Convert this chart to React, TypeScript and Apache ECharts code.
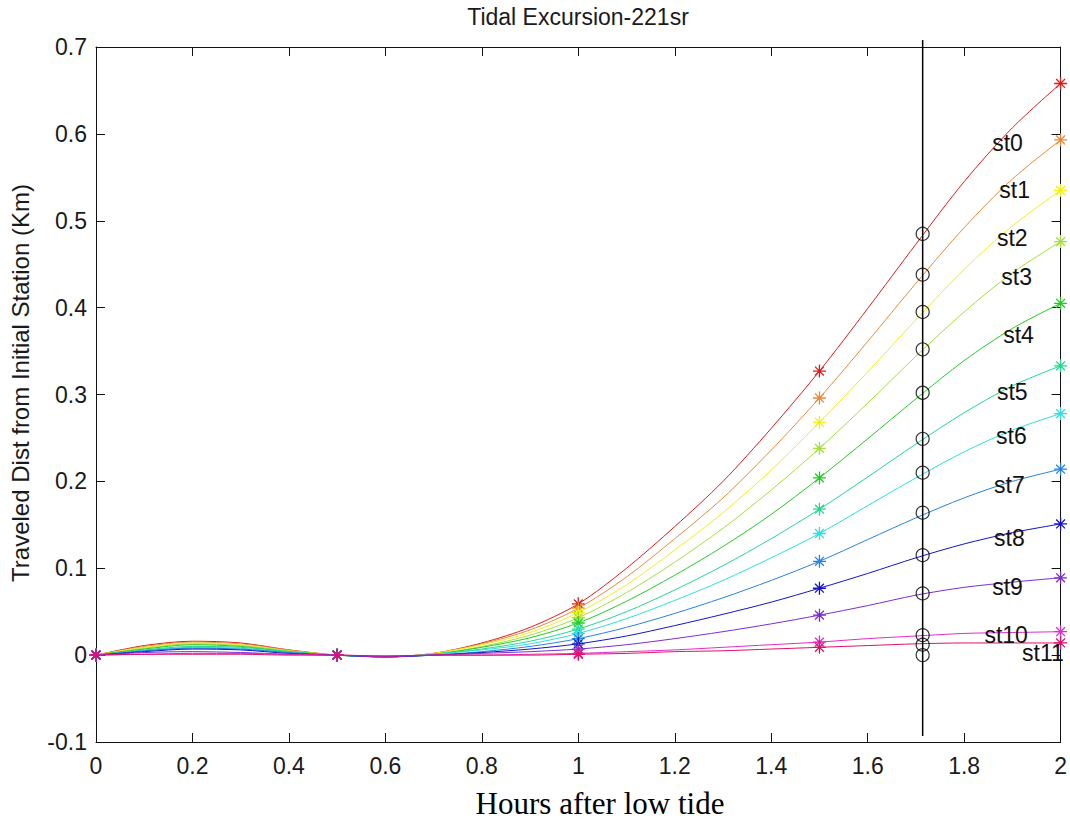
import React, { useEffect, useRef } from "react";
import * as echarts from "echarts";

const xs = [0, 0.1, 0.2, 0.3, 0.4, 0.5, 0.6, 0.7, 0.8, 0.9, 1.0, 1.1, 1.2, 1.3, 1.4, 1.5, 1.6, 1.7, 1.8, 1.9, 2.0];

const stationNames = ["st0", "st1", "st2", "st3", "st4", "st5", "st6", "st7", "st8", "st9", "st10", "st11"];

const st0 = [0, 0.011, 0.016, 0.014, 0.006, 0, -0.002, 0.002, 0.014, 0.032, 0.059, 0.100, 0.148, 0.200, 0.261, 0.327, 0.399, 0.473, 0.545, 0.607, 0.658];
const st1 = [0, 0.010, 0.015, 0.013, 0.006, 0, -0.002, 0.002, 0.013, 0.029, 0.054, 0.090, 0.134, 0.181, 0.236, 0.296, 0.361, 0.428, 0.492, 0.548, 0.593];
const st2 = [0, 0.009, 0.014, 0.012, 0.005, 0, -0.002, 0.002, 0.012, 0.026, 0.049, 0.081, 0.121, 0.164, 0.213, 0.268, 0.326, 0.386, 0.444, 0.494, 0.535];
const st3 = [0, 0.008, 0.013, 0.011, 0.005, 0, -0.002, 0.001, 0.010, 0.023, 0.043, 0.072, 0.107, 0.146, 0.190, 0.238, 0.290, 0.344, 0.395, 0.440, 0.476];
const st4 = [0, 0.007, 0.012, 0.010, 0.004, 0, -0.002, 0.001, 0.009, 0.020, 0.037, 0.062, 0.092, 0.125, 0.162, 0.204, 0.249, 0.295, 0.339, 0.376, 0.405];
const st5 = [0, 0.006, 0.010, 0.009, 0.004, 0, -0.002, 0.001, 0.007, 0.016, 0.030, 0.050, 0.075, 0.103, 0.134, 0.168, 0.205, 0.243, 0.279, 0.310, 0.333];
const st6 = [0, 0.005, 0.009, 0.008, 0.003, 0, -0.002, 0.001, 0.006, 0.013, 0.025, 0.042, 0.063, 0.086, 0.112, 0.140, 0.172, 0.204, 0.234, 0.259, 0.278];
const st7 = [0, 0.005, 0.008, 0.007, 0.003, 0, -0.002, 0.000, 0.004, 0.010, 0.019, 0.032, 0.048, 0.066, 0.086, 0.108, 0.133, 0.158, 0.181, 0.200, 0.214];
const st8 = [0, 0.004, 0.007, 0.006, 0.002, 0, -0.002, 0.000, 0.003, 0.007, 0.013, 0.022, 0.034, 0.047, 0.061, 0.077, 0.094, 0.112, 0.128, 0.141, 0.151];
const st9 = [0, 0.003, 0.004, 0.003, 0.001, 0, -0.002, 0.000, 0.002, 0.004, 0.007, 0.012, 0.019, 0.027, 0.036, 0.046, 0.057, 0.069, 0.078, 0.084, 0.089];
const st10 = [0, 0.001, 0.002, 0.002, 0.001, 0, -0.001, 0, 0.000, 0.001, 0.002, 0.004, 0.006, 0.009, 0.012, 0.015, 0.019, 0.022, 0.025, 0.026, 0.027];
const st11 = [0, 0.001, 0.001, 0.001, 0.000, 0, -0.001, 0, 0, 0.000, 0.001, 0.002, 0.004, 0.005, 0.007, 0.009, 0.011, 0.013, 0.014, 0.014, 0.014];

const stationValues = [st0, st1, st2, st3, st4, st5, st6, st7, st8, st9, st10, st11];

const stationColors = ["#dd1c1c", "#e8893a", "#f0ee1e", "#a4e03a", "#22cc22", "#22d88c", "#2ce0e0", "#2882e0", "#1414c8", "#7a2ed0", "#e02cc8", "#e0106a"];

// hours at which star markers are drawn
const starHours = [0, 0.5, 1.0, 1.5, 2.0];

// vertical marker line
const markerHour = 1.714;
const markerTop = 0.708;
const markerBottom = -0.093;
const circleValues = [0.485, 0.438, 0.395, 0.352, 0.302, 0.249, 0.210, 0.164, 0.115, 0.071, 0.023, 0.012, 0.0];

// station text labels [x, y]
const labelX = [1.857, 1.872, 1.867, 1.876, 1.880, 1.867, 1.865, 1.861, 1.861, 1.857, 1.841, 1.919];
const labelY = [0.589, 0.535, 0.480, 0.435, 0.369, 0.303, 0.252, 0.196, 0.135, 0.078, 0.023, 0.003];

const xTicks = { min: 0, max: 2, interval: 0.2 };
const yTicks = { min: -0.1, max: 0.7, interval: 0.1 };

const STAR = "path://M5 0L5 10M0 5L10 5M1.6 1.6L8.4 8.4M8.4 1.6L1.6 8.4";
const SANS = "'Liberation Sans', Arial, sans-serif";

export default function App() {
  const ref = useRef<HTMLDivElement>(null);
  useEffect(() => {
    if (!ref.current) return;
    const chart = echarts.init(ref.current, undefined, { renderer: "svg" });

    const lineSeries = stationValues.map((vals, i) => ({
      type: "line",
      name: stationNames[i],
      smooth: 0.3,
      showAllSymbol: true,
      lineStyle: { color: stationColors[i], width: 1 },
      itemStyle: { color: stationColors[i], borderColor: stationColors[i], borderWidth: 1.3 },
      data: xs.map((x, j) => {
        const isStar = starHours.some((h) => Math.abs(h - x) < 1e-9);
        return isStar
          ? { value: [x, vals[j]], symbol: STAR, symbolSize: 13 }
          : { value: [x, vals[j]], symbol: "none" };
      }),
      z: 2,
    }));

    const axisLine = { show: true, onZero: false, lineStyle: { color: "#111", width: 1 } };
    const axisTick = { show: true, inside: true, length: 9, lineStyle: { color: "#111", width: 1 } };
    const labelStyle = { fontFamily: SANS, fontSize: 23, color: "#1a1a1a" };

    const option = {
      animation: false,
      backgroundColor: "#fff",
      grid: { left: 96, top: 47, right: 8, bottom: 86, containLabel: false },
      xAxis: [
        {
          type: "value",
          ...xTicks,
          axisLine,
          axisTick,
          splitLine: { show: false },
          axisLabel: { ...labelStyle, margin: 12 },
        },
        {
          type: "value",
          position: "top",
          ...xTicks,
          axisLine,
          axisTick,
          splitLine: { show: false },
          axisLabel: { show: false },
        },
      ],
      yAxis: [
        {
          type: "value",
          ...yTicks,
          axisLine,
          axisTick,
          splitLine: { show: false },
          axisLabel: { ...labelStyle, margin: 9 },
        },
        {
          type: "value",
          position: "right",
          ...yTicks,
          axisLine,
          axisTick,
          splitLine: { show: false },
          axisLabel: { show: false },
        },
      ],
      graphic: [
        {
          type: "text",
          x: 578,
          y: 17,
          style: { text: "Tidal Excursion-221sr", font: `23px ${SANS}`, fill: "#1a1a1a", textAlign: "center", textVerticalAlign: "middle" },
        },
        {
          type: "text",
          x: 20,
          y: 383,
          rotation: Math.PI / 2,
          style: { text: "Traveled Dist from Initial Station (Km)", font: `24px ${SANS}`, fill: "#1a1a1a", textAlign: "center", textVerticalAlign: "middle" },
        },
        {
          type: "text",
          x: 600,
          y: 803,
          style: { text: "Hours after low tide", font: `31px 'Liberation Serif', 'Times New Roman', serif`, fill: "#000", textAlign: "center", textVerticalAlign: "middle" },
        },
      ],
      series: [
        ...lineSeries,
        {
          type: "line",
          name: "marker",
          clip: false,
          symbol: "none",
          lineStyle: { color: "#000", width: 1.5 },
          data: [
            [markerHour, markerTop],
            [markerHour, markerBottom],
          ],
          z: 3,
        },
        {
          type: "scatter",
          name: "circles",
          symbol: "circle",
          symbolSize: 13,
          itemStyle: { color: "rgba(0,0,0,0)", borderColor: "#000", borderWidth: 1.2 },
          data: circleValues.map((v) => [markerHour, v]),
          z: 4,
        },
        {
          type: "scatter",
          name: "labels",
          symbolSize: 1,
          itemStyle: { color: "rgba(255,255,255,0)" },
          label: {
            show: true,
            position: "right",
            distance: 0,
            fontFamily: SANS,
            fontSize: 23,
            color: "#111",
            opacity: 1,
            textBorderWidth: 0,
            formatter: (p: any) => p.data[2],
          },
          data: stationNames.map((n, i) => [labelX[i], labelY[i], n]),
          z: 5,
        },
      ],
    };

    chart.setOption(option as any);
    return () => chart.dispose();
  }, []);

  return (
    <div
      ref={ref}
      style={{ position: "fixed", left: 0, top: 0, width: 1070, height: 828, background: "#fff" }}
    />
  );
}
